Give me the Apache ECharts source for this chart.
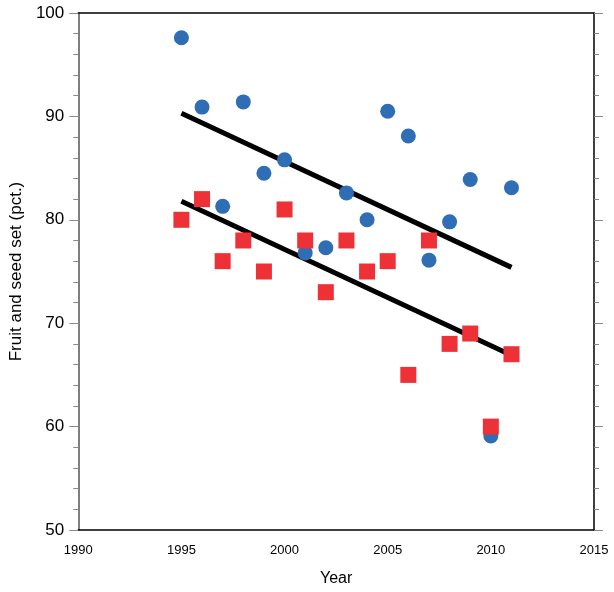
<!DOCTYPE html>
<html>
<head>
<meta charset="utf-8">
<script src="https://cdn.jsdelivr.net/npm/echarts@6/dist/echarts.min.js"></script>
<style>html,body{margin:0;padding:0;background:#fff;}#c{width:614px;height:592px;}</style>
</head>
<body>
<div id="c"></div>
<script>
var years = [1995,1996,1997,1998,1999,2000,2001,2002,2003,2004,2005,2006,2007,2008,2009,2010,2011];
var fruitSet = [97.6,90.9,81.3,91.4,84.5,85.8,76.8,77.3,82.6,80.0,90.5,88.1,76.1,79.8,83.9,59.1,83.1];
var seedSet = [80,82,76,78,75,81,78,73,78,75,76,65,78,68,69,60,67];
var fitYears = [1995, 2011];
var fruitFit = [90.3, 75.4];
var seedFit = [81.8, 66.9];
var xTicks = [1990,1995,2000,2005,2010,2015];

function pairs(xs, ys){ return xs.map(function(x,i){ return [x, ys[i]]; }); }

var chart = echarts.init(document.getElementById('c'));
var font = 'Liberation Sans, Arial, sans-serif';
chart.setOption({
  animation: false,
  grid: {left: 77, right: 20, top: 13, bottom: 60.5},
  xAxis: [{
    type: 'value', min: 1990, max: 2015, interval: 5, position: 'bottom',
    name: 'Year', nameLocation: 'middle', nameGap: 41,
    nameTextStyle: {fontFamily: font, fontSize: 16, color: '#000'},
    axisLine: {show: true, lineStyle: {color: '#000', width: 1.5}},
    axisTick: {show: false},
    axisLabel: {margin: 14, fontFamily: font, fontSize: 13, color: '#000',
      formatter: function(v){ return xTicks.indexOf(v) >= 0 ? String(v) : ''; }},
    splitLine: {show: false}
  }, {
    type: 'value', min: 1990, max: 2015, position: 'top',
    axisLine: {show: true, lineStyle: {color: '#000', width: 1.5}},
    axisTick: {show: false}, axisLabel: {show: false}, splitLine: {show: false}
  }],
  yAxis: [{
    type: 'value', min: 50, max: 100, interval: 10, position: 'left',
    name: 'Fruit and seed set (pct.)', nameLocation: 'middle', nameGap: 53,
    nameTextStyle: {fontFamily: font, fontSize: 17, color: '#000'},
    axisLine: {show: true, lineStyle: {color: '#555', width: 1.5}},
    axisTick: {show: true, inside: false, length: 9, lineStyle: {color: '#888'}},
    minorTick: {show: true, splitNumber: 5, length: 5, lineStyle: {color: '#888'}},
    axisLabel: {margin: 14, fontFamily: font, fontSize: 17, color: '#000'},
    splitLine: {show: false}
  }, {
    type: 'value', min: 50, max: 100, interval: 10, position: 'right',
    axisLine: {show: true, lineStyle: {color: '#000', width: 1.5}},
    axisTick: {show: true, inside: false, length: 9, lineStyle: {color: '#888'}},
    minorTick: {show: true, splitNumber: 5, length: 5, lineStyle: {color: '#888'}},
    axisLabel: {show: false},
    splitLine: {show: false}
  }],
  series: [{
    type: 'line', data: pairs(fitYears, fruitFit), symbol: 'none',
    lineStyle: {color: '#000', width: 5}, z: 1
  }, {
    type: 'line', data: pairs(fitYears, seedFit), symbol: 'none',
    lineStyle: {color: '#000', width: 5}, z: 1
  }, {
    type: 'scatter', data: pairs(years, fruitSet), symbol: 'circle', symbolSize: 15,
    itemStyle: {color: '#2F6DB5', opacity: 1}, z: 2
  }, {
    type: 'scatter', data: pairs(years, seedSet), symbol: 'rect', symbolSize: 16,
    itemStyle: {color: '#EE3136', opacity: 1}, z: 3
  }]
});
</script>
</body>
</html>
